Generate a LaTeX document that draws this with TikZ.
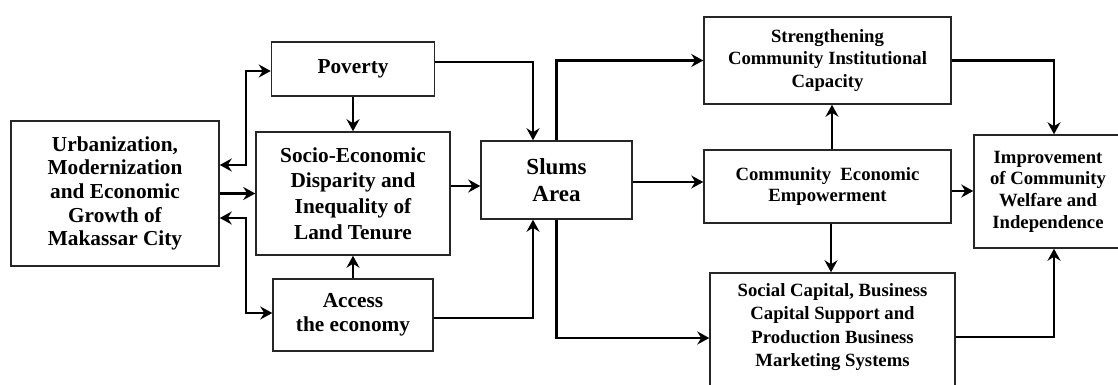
\documentclass[tikz,border=0pt]{standalone}
\usepackage{fontspec}
\setmainfont{Liberation Serif}[BoldFont={Liberation Serif Bold}]
\usetikzlibrary{positioning,arrows.meta}

\tikzset{
  box/.style={draw=black!85, line width=1.5pt, inner sep=0pt, align=center},
  big/.style={font=\bfseries\fontsize{21.3pt}{23.7pt}\selectfont},
  small/.style={font=\bfseries\fontsize{18.7pt}{22pt}\selectfont},
  tip/.style={Stealth[length=12pt,width=13pt,inset=4pt]},
  flow/.style={-{Stealth[length=12pt,width=13pt,inset=4pt]}, line width=2.2pt},
  twoway/.style={{Stealth[length=12pt,width=13pt,inset=4pt]}-{Stealth[length=12pt,width=13pt,inset=4pt]}, line width=2.2pt},
}

\begin{document}
\begin{tikzpicture}[node distance=2cm,on grid]
   \useasboundingbox (0,0) rectangle (1118pt,-385pt);
   \clip (0,0) rectangle (1118pt,-385pt);
   % left part
   \node[box,big,minimum width=208pt,minimum height=145pt] (urban) at (115pt,-193.5pt)
        {Urbanization,\\Modernization\\and Economic\\Growth of\\Makassar City};
   \node[box,big,minimum width=194pt,minimum height=123pt,font=\bfseries\fontsize{21.3pt}{25.7pt}\selectfont]
        (socio) [right=238pt of urban] {Socio-Economic\\Disparity and\\Inequality of\\Land Tenure};
   \node[box,big,minimum width=163pt,minimum height=54pt] (poverty) [above=124.5pt of socio] {Poverty};
   \node[box,big,minimum width=160pt,minimum height=72pt,font=\bfseries\fontsize{21.3pt}{24.3pt}\selectfont]
        (access) [below=121.5pt of socio] {Access\\the economy};
   \node[box,minimum width=151pt,minimum height=78pt,font=\bfseries\fontsize{23pt}{27pt}\selectfont]
        (slums) [above right=13.5pt and 203.5pt of socio] {Slums\\Area};
   % right part
   \node[box,small,minimum width=247pt,minimum height=87pt,font=\bfseries\fontsize{18.7pt}{22.5pt}\selectfont]
        (streng) [above right=119.5pt and 271pt of slums] {Strengthening\\Community Institutional\\Capacity};
   \node[box,small,minimum width=247pt,minimum height=73pt,font=\bfseries\fontsize{18.7pt}{21.7pt}\selectfont]
        (cee) [below=126pt of streng] {Community~ Economic\\Empowerment};
   \node[box,minimum width=245pt,minimum height=122pt] (social) [below right=147.5pt and 5pt of cee] {};
   \node[small,align=center,inner sep=0pt,font=\bfseries\fontsize{18.7pt}{23.2pt}\selectfont]
        (socialtxt) at ([yshift=7pt]social.center)
        {Social Capital, Business\\Capital Support and\\Production Business\\Marketing Systems};
   \node[box,small,minimum width=148pt,minimum height=113pt,font=\bfseries\fontsize{18.7pt}{21.7pt}\selectfont]
        (impr) [below right=5pt and 220.5pt of cee] {Improvement\\of Community\\Welfare and\\Independence};
   % connectors
   \draw[twoway] ([yshift=28.5pt]urban.east) -| ([xshift=-24.5pt,yshift=-2pt]poverty.west) -- ([yshift=-2pt]poverty.west);
   \draw[twoway] ([yshift=-24.5pt]urban.east) -| ([xshift=-26pt,yshift=2pt]access.west) -- ([yshift=2pt]access.west);
   \draw[flow] (urban.east) -- (socio.west);
   \draw[flow] (poverty.south) -- (socio.north);
   \draw[flow] (access.north) -- (socio.south);
   \draw[flow] ([yshift=7.5pt]socio.east) -- ([yshift=7.5pt]socio.east -| slums.west);
   \draw[flow] ([yshift=7pt]poverty.east) -| ([xshift=-23.5pt]slums.north);
   \draw[flow] ([yshift=-3pt]access.east) -| ([xshift=-23.5pt]slums.south);
   \draw[flow] (slums.north) |- (streng.west);
   \draw[flow] ([yshift=-2pt]slums.east) -- ([yshift=-2pt]slums.east -| cee.west);
   \draw[flow] (slums.south) |- ([yshift=-4pt]social.west);
   \draw[flow] ([xshift=4.5pt]cee.north) -- ([xshift=4.5pt]cee.north |- streng.south);
   \draw[flow] ([xshift=3.5pt]cee.south) -- ([xshift=3.5pt]cee.south |- social.north);
   \draw[flow] ([yshift=-4.5pt]cee.east) -- ([yshift=-4.5pt]cee.east -| impr.west);
   \draw[flow] (streng.east) -| ([xshift=6pt]impr.north);
   \draw[flow] ([yshift=-3pt]social.east) -| ([xshift=6pt]impr.south);
\end{tikzpicture}
\end{document}
